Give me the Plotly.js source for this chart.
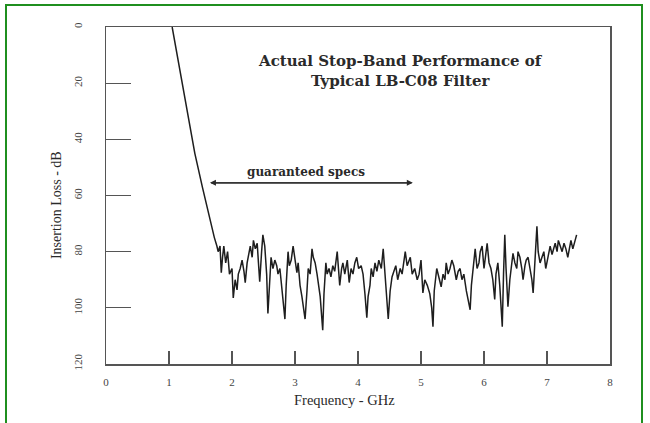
<!DOCTYPE html>
<html>
<head>
<meta charset="utf-8">
<script src="https://cdn.plot.ly/plotly-3.0.1.min.js"></script>
<style>
html,body{margin:0;padding:0;background:#fff;}
#wrap{position:relative;width:650px;height:423px;overflow:hidden;}
#chart{width:650px;height:423px;}
#frame{position:absolute;left:5px;top:4px;width:638px;height:430px;border:2px solid #1f8f1f;box-sizing:border-box;pointer-events:none;}
</style>
</head>
<body>
<div id="wrap"><div id="chart"></div><div id="frame"></div></div>
<script>
// Frequency (GHz) and insertion loss (dB)
const freqGHz = [
1.05,1.13,1.22,1.31,1.41,1.53,1.65,1.72,1.76,
1.78,1.81,1.83,1.85,1.87,1.90,1.93,1.96,2.00,2.02,2.05,2.08,2.10,2.13,2.16,2.19,2.21,2.24,2.27,2.29,
2.32,2.34,2.37,2.40,2.42,2.44,2.47,2.49,2.52,2.55,2.57,2.60,2.62,2.65,2.68,2.71,2.73,2.76,2.79,2.81,
2.84,2.86,2.89,2.91,2.94,2.97,3.00,3.03,3.05,3.08,3.11,3.14,3.16,3.19,3.21,3.24,3.27,3.29,3.32,3.35,
3.37,3.40,3.44,3.46,3.49,3.51,3.54,3.57,3.60,3.63,3.67,3.70,3.71,3.74,3.76,3.79,3.83,3.86,3.89,3.92,
3.95,3.98,4.01,4.05,4.08,4.11,4.14,4.16,4.19,4.21,4.24,4.27,4.30,4.33,4.37,4.40,4.43,4.46,4.48,4.51,
4.54,4.57,4.60,4.63,4.67,4.70,4.75,4.78,4.83,4.86,4.90,4.94,4.97,5.00,5.03,5.06,5.10,5.14,5.17,5.19,
5.21,5.25,5.28,5.32,5.35,5.38,5.40,5.43,5.46,5.49,5.52,5.56,5.59,5.62,5.65,5.68,5.72,5.75,5.78,5.80,
5.84,5.86,5.89,5.92,5.94,5.97,6.00,6.05,6.08,6.11,6.14,6.17,6.19,6.22,6.25,6.29,6.31,6.33,6.35,6.38,
6.41,6.44,6.46,6.49,6.52,6.54,6.57,6.60,6.62,6.65,6.67,6.70,6.73,6.76,6.78,6.80,6.84,6.86,6.89,6.92,
6.95,6.98,7.00,7.03,7.05,7.08,7.10,7.13,7.16,7.18,7.21,7.24,7.27,7.30,7.33,7.35,7.38,7.41,7.44,7.47
];
const lossDB = [
0,10,21,33,45,57,69,75,78,
80,78,87.5,82,78,84,80,88,86,96.5,90,93.6,88,86,83,87,91,84,80,78,
82,76,79,77,84,90.7,80,74,78,88,102,90,82,86,83,85,88,86,92.5,96,
104,92,80,85,83,78,83,87.5,84,92,96,100,104,94,86,88,79,82,84,88,
92,96,108,95,84,88,86,89,85,87,80,90,92,86,84,88,83,91,86,88,
84,82,86,85,88,95,103.5,96,92,86,89,84,87,83,86,79,90,97,104,94,
89,87,85,90,86,88,80,85,82,88,86,90,88,83,94.7,90,92,95,100,106.7,
94,86,89,92.5,88,90,84,88,86,83,85,90,87,86,90,88,94,98,100.7,92,
84,79,86,84,80,78,86,77,84,86,90,97,88,84,92,106.7,88,74,86,99.6,
90,84,80.6,84,86,80,82,86,90,85,83,82,86,90,94.7,86,71,80,84,82,
80,86,84,80,78,81,79,77,80,76,78,80,77,79,82,80,76,79,76,74
];
const xTicks = [0,1,2,3,4,5,6,7,8];
const yTicks = [0,20,40,60,80,100,120];
const specRange = [1.65, 4.87];
const specLevel = 55.5;
const titleLines = ["Actual Stop-Band Performance of", "Typical LB-C08 Filter"];
const specLabel = "guaranteed specs";
const xTitle = "Frequency - GHz";
const yTitle = "Insertion Loss - dB";

const serif = "Liberation Serif, Times New Roman, serif";
const wideSerif = "DejaVu Serif, Liberation Serif, serif";
const ink = "#2a2a2a";

const trace = {
  x: freqGHz, y: lossDB, type: "scatter", mode: "lines",
  line: {color: "#1e1e1e", width: 1.5},
  hoverinfo: "skip", showlegend: false
};

const layout = {
  width: 650, height: 423,
  margin: {l: 106, r: 40, t: 27, b: 59, pad: 0},
  paper_bgcolor: "#fff", plot_bgcolor: "#fff",
  showlegend: false,
  xaxis: {
    range: [0, 8], tickvals: xTicks, ticktext: xTicks.map(String),
    ticks: "inside", ticklen: 13, tickwidth: 1.3, tickcolor: "#555",
    showline: true, mirror: true, linecolor: "#555", linewidth: 1.5,
    showgrid: false, zeroline: false,
    tickfont: {family: serif, size: 11, color: "#444"},
    ticklabelstandoff: 7
  },
  yaxis: {
    range: [120, 0], tickvals: yTicks, ticktext: yTicks.map(String),
    ticks: "inside", ticklen: 25, tickwidth: 1.3, tickcolor: "#555",
    showline: true, mirror: true, linecolor: "#555", linewidth: 1.5,
    showgrid: false, zeroline: false,
    tickangle: -90,
    tickfont: {family: serif, size: 11, color: "#444"},
    ticklabelstandoff: 18
  },
  annotations: [
    {xref: "paper", yref: "paper", x: 0.585, y: 0.869, xanchor: "center", yanchor: "middle",
     text: "<b>" + titleLines[0] + "</b><br><b>" + titleLines[1] + "</b>",
     showarrow: false, font: {family: wideSerif, size: 15, color: ink}},
    {x: 3.18, y: specLevel - 3.7, xref: "x", yref: "y",
     text: "<b>" + specLabel + "</b>", showarrow: false,
     font: {family: wideSerif, size: 12, color: ink}},
    {x: specRange[1], y: specLevel, ax: specRange[0], ay: specLevel, xref: "x", yref: "y",
     axref: "x", ayref: "y", showarrow: true, arrowhead: 2, arrowsize: 1, arrowwidth: 1.2,
     arrowcolor: ink, text: ""},
    {x: specRange[0], y: specLevel, ax: specRange[1], ay: specLevel, xref: "x", yref: "y",
     axref: "x", ayref: "y", showarrow: true, arrowhead: 2, arrowsize: 1, arrowwidth: 1.2,
     arrowcolor: ink, text: ""},
    {xref: "paper", yref: "paper", x: 0.474, y: -0.108, xanchor: "center", yanchor: "middle",
     text: xTitle, showarrow: false, font: {family: serif, size: 14.5, color: ink}},
    {xref: "paper", yref: "paper", x: -0.097, y: 0.472, xanchor: "center", yanchor: "middle",
     textangle: -90, text: yTitle, showarrow: false, font: {family: serif, size: 14, color: ink}}
  ]
};

Plotly.newPlot("chart", [trace], layout, {staticPlot: true, displayModeBar: false});
</script>
</body>
</html>
